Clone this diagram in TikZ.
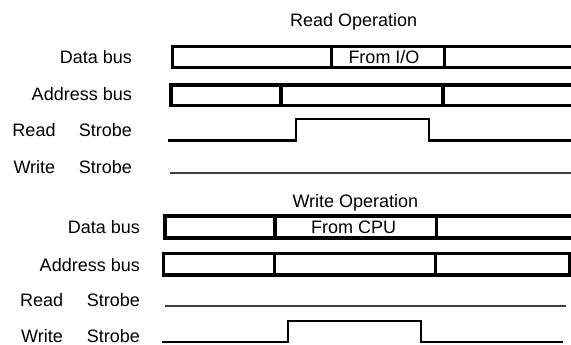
\documentclass[tikz,border=0pt]{standalone}
\usepackage{fontspec}
\setmainfont{Liberation Sans}
\begin{document}
\begin{tikzpicture}[x=1pt,y=-1pt,
  lbl/.style={inner sep=0pt,font=\fontsize{18}{20}\selectfont},
  lw/.style={lbl,anchor=base west},
  le/.style={lbl,anchor=base east},
  bus/.style={line width=3.2pt,black},
  strobe/.style={line width=2.2pt,black},
  flat/.style={line width=1.6pt,black!75}]
\clip (0,0) rectangle (571,345);
\fill[white] (0,0) rectangle (571,345);

% ---------- Read operation ----------
\node[lw] (rtitle) at (290,26.7) {Read Operation};
\node[le] (rdb) at (132,63.3) {Data bus};
\node[le] (rab) at (132,101) {Address bus};
\node[lw] (rrd) at (12.3,136.7) {Read};
\node[le] (rrds) at (132,136.7) {Strobe};
\node[lw] (rwr) at (13.3,173.3) {Write};
\node[le] (rwrs) at (132,173.3) {Strobe};

% data bus
\draw[bus] (580,46.5) -- (172.5,46.5) -- (172.5,67.5) -- (580,67.5);
\draw[bus] (331.3,46.5) -- (331.3,67.5);
\draw[bus] (444.7,46.5) -- (444.7,67.5);
\node[lw] (rfrom) at (348.3,63.3) {From I/O};
% address bus
\draw[bus] (580,85) -- (171,85) -- (171,105.7) -- (580,105.7);
\draw[bus] (281,85) -- (281,105.7);
\draw[bus] (443,85) -- (443,105.7);
% read strobe
\draw[strobe] (168.3,140.5) -- (295.8,140.5) -- (295.8,119.2) -- (428.8,119.2) -- (428.8,140.5) -- (580,140.5);
% write strobe
\draw[flat] (170,172.8) -- (580,172.8);

% ---------- Write operation ----------
\node[lw] (wtitle) at (292.3,207.3) {Write Operation};
\node[le] (wdb) at (140,233.3) {Data bus};
\node[le] (wab) at (140,271.7) {Address bus};
\node[lw] (wrd) at (20,306.7) {Read};
\node[le] (wrds) at (140,306.7) {Strobe};
\node[lw] (wwr) at (21,342) {Write};
\node[le] (wwrs) at (140,342) {Strobe};

% data bus
\draw[bus] (580,216) -- (165,216) -- (165,238) -- (580,238);
\draw[bus] (275,216) -- (275,238);
\draw[bus] (436.7,216) -- (436.7,238);
\node[lw] (wfrom) at (311,233.3) {From CPU};
% address bus
\draw[bus] (163.7,253.3) rectangle (569.3,275);
\draw[bus] (274.3,253.3) -- (274.3,275);
\draw[bus] (435.7,253.3) -- (435.7,275);
% read strobe
\draw[flat] (165,305.7) -- (566,305.7);
% write strobe
\draw[strobe] (162.3,342) -- (288.3,342) -- (288.3,320.7) -- (421.2,320.7) -- (421.2,342) -- (563,342);
\end{tikzpicture}
\end{document}
